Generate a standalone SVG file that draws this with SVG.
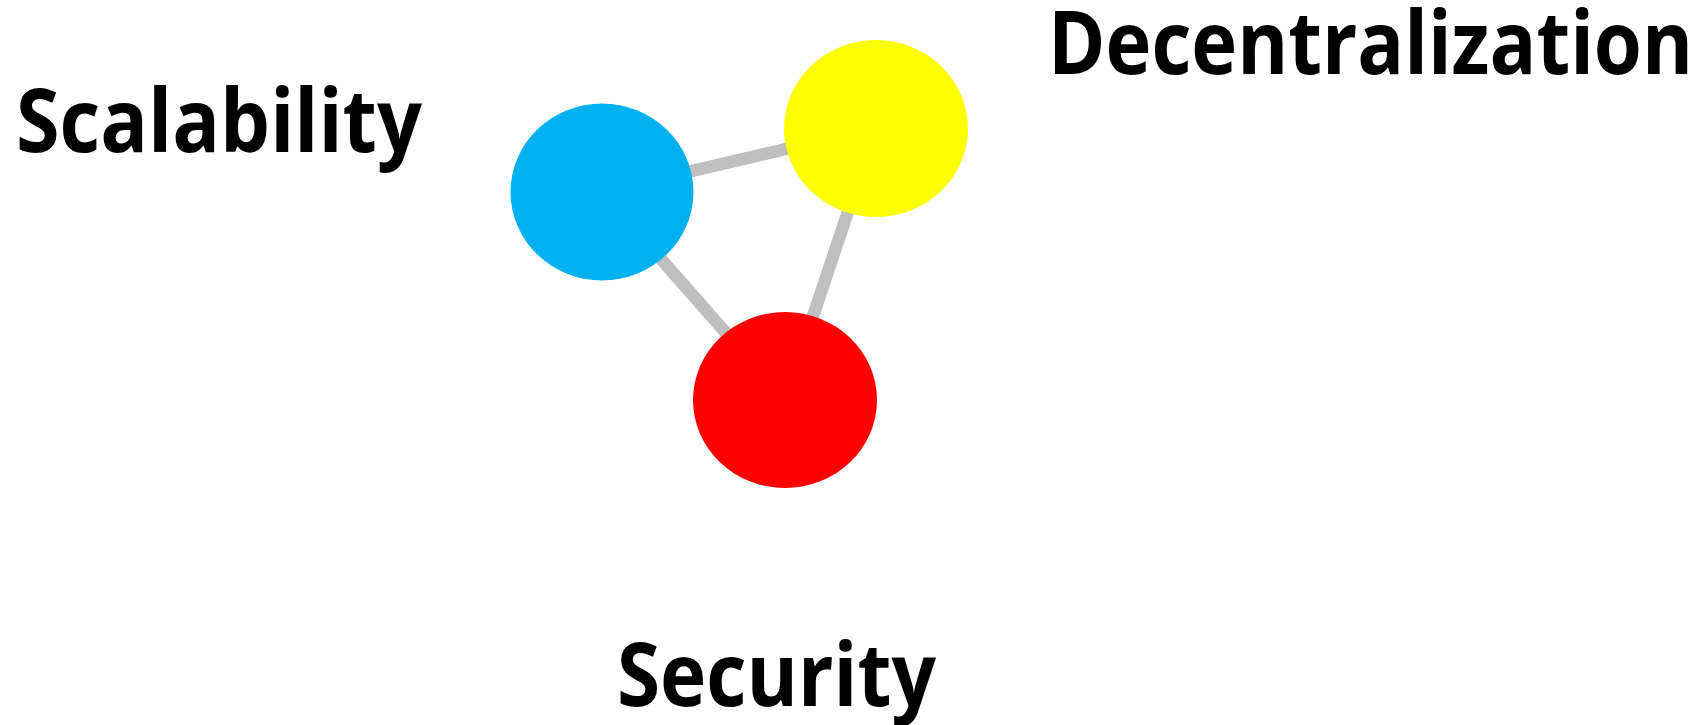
<svg xmlns="http://www.w3.org/2000/svg" width="1706" height="725" viewBox="0 0 1706 725">
<style>
.lbl{font-family:"Open Sans","Liberation Sans",sans-serif;font-weight:bold;font-size:88px;fill:#000}
.edge{stroke:#bfbfbf;stroke-width:12.5;stroke-linecap:butt}
</style>
<rect width="1706" height="725" fill="#fff"/>
<g id="connectors">
<line class="edge" x1="602" y1="192" x2="876" y2="128"/>
<line class="edge" x1="602" y1="192" x2="785" y2="400"/>
<line class="edge" x1="876" y1="128" x2="785" y2="400"/>
</g>
<g id="node-scalability">
<ellipse cx="602" cy="192" rx="91.5" ry="88.5" fill="#00b0f0"/>
<text class="lbl" x="16" y="152" textLength="406" lengthAdjust="spacingAndGlyphs">Scalability</text>
</g>
<g id="node-decentralization">
<ellipse cx="876" cy="128.5" rx="92" ry="88.5" fill="#ffff00"/>
<text class="lbl" x="1048" y="74" textLength="645" lengthAdjust="spacingAndGlyphs">Decentralization</text>
</g>
<g id="node-security">
<ellipse cx="785" cy="400" rx="92" ry="88" fill="#ff0000"/>
<text class="lbl" x="617" y="706" textLength="319" lengthAdjust="spacingAndGlyphs">Security</text>
</g>
</svg>
